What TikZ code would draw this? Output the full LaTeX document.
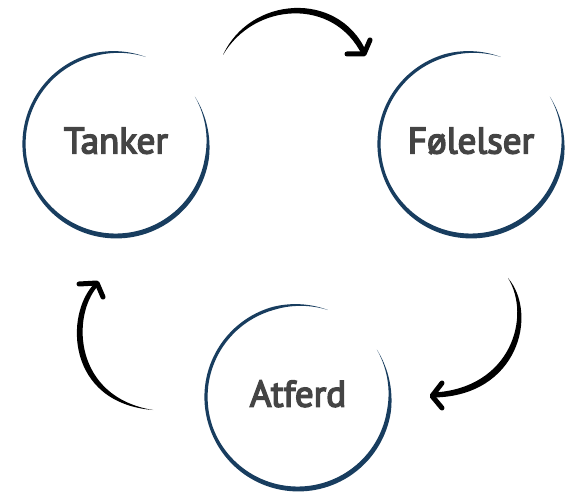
\documentclass[tikz,border=0pt]{standalone}
\usepackage{fontspec}
\setmainfont{PT Sans}
\newfontfamily\boblefont{PT Sans}[FakeBold=4]
\usetikzlibrary{calc}
\definecolor{ringblaa}{RGB}{24,61,95}
\definecolor{tekstgraa}{RGB}{68,68,68}
\tikzset{
  boble/.style={circle,minimum size=184pt,inner sep=0pt,text depth=7pt,
                font=\boblefont\fontsize{37}{40}\selectfont,text=tekstgraa},
  pil/.style={fill=black},
  pilhode/.style={draw=black,line width=5pt,line cap=round,line join=round},
  declare function={bredde(\t)=(3.2+1.8*max(cos(\t-430),0))*min(1,(649-\t)/35)*min(1,(\t-329)/40);},
}
\newcommand{\tegnring}[1]{%
  \fill[ringblaa,shift={(#1.center)}]
    plot[domain=329:649,samples=120,smooth] (\x:{92+0.5*bredde(\x)})
    -- plot[domain=649:329,samples=120,smooth] (\x:{92-0.5*bredde(\x)}) -- cycle;}

\begin{document}
\begin{tikzpicture}[x=1pt,y=-1pt]
  \useasboundingbox (0,0) rectangle (574,492);
  \node[boble] (tanker) at (116,144) {Tanker};
  \node[boble] (folelser) at (471,144) {Følelser};
  \node[boble] (atferd) at (298,397) {Atferd};
  \tegnring{tanker} \tegnring{folelser} \tegnring{atferd}
  \coordinate (s1) at ($(tanker)+(107,-89)$);
  \coordinate (t1) at ($(folelser)+(-107,-90)$);
  \coordinate (s2) at ($(folelser)+(37,134)$);
  \coordinate (t2) at ($(atferd)+(136,-2)$);
  \coordinate (s3) at ($(atferd)+(-145,13)$);
  \coordinate (t3) at ($(tanker)+(-20,141)$);
  \fill[pil] (s1) .. controls +(27,-59) and +(-28,-61) .. ($(t1)+(2,-3)$)
    -- ($(t1)+(-2,1)$) .. controls +(-28,-58) and +(31,-53) .. (s1) -- cycle;
  \draw[pilhode] ($(t1)+(-17,0)$) -- (t1) -- ($(t1)+(6,-14)$);
  \fill[pil] (s2) .. controls +(30.5,36) and +(84.5,-1.5) .. ($(t2)+(0,2.5)$)
    -- ($(t2)+(0,-2.5)$) .. controls +(77.5,-4.5) and +(23.5,38) .. (s2) -- cycle;
  \draw[pilhode] ($(t2)+(8,-12)$) -- ($(t2)+(-2,1)$) -- ($(t2)+(8,13)$);
  \fill[pil] (s3) .. controls +(-87,-7) and +(-30,30.5) .. ($(t3)+(-1.5,-1.5)$)
    -- ($(t3)+(1.5,1.5)$) .. controls +(-26,29.5) and +(-79.5,-13) .. (s3) -- cycle;
  \draw[pilhode] ($(t3)+(-17,-1)$) -- ($(t3)+(1,-2)$) -- ($(t3)+(7,12)$);
\end{tikzpicture}
\end{document}
